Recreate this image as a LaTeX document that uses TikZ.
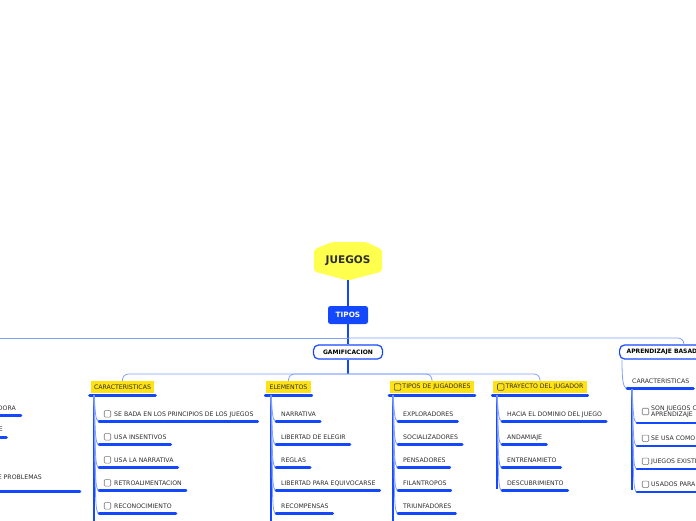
\documentclass[tikz,border=0pt]{standalone}
\usepackage{fontspec}
\setmainfont{DejaVu Sans}
\definecolor{dblue}{RGB}{20,72,255}
\definecolor{lblue}{RGB}{128,158,255}
\definecolor{yelbox}{RGB}{255,226,20}
\definecolor{hexyel}{RGB}{255,255,77}
\definecolor{txt}{RGB}{45,45,45}
\definecolor{chkgray}{RGB}{120,120,120}
\newcommand{\fsix}{\fontsize{6.2}{7}\selectfont}
\tikzset{
  itm/.style={font=\fsix, text=txt, inner sep=0pt, anchor=base west},
  itmend/.style={font=\fsix, text=txt, inner sep=0pt, anchor=base east},
  chk/.style={draw=chkgray, fill=white, line width=0.6pt, rounded corners=1pt, minimum size=6.5pt, inner sep=0pt},
  chkdark/.style={draw=txt!80, fill=yelbox, line width=0.6pt, rounded corners=1pt, minimum size=6.5pt, inner sep=0pt},
  lightc/.style={draw=lblue, line width=0.8pt},
  dline/.style={draw=dblue, line width=1.6pt},
  bar/.style={draw=dblue, line width=2.8pt, line cap=round},
  catbox/.style={fill=yelbox, font=\fsix, text=txt, inner xsep=3.2pt, inner ysep=0pt, minimum height=12pt},
  mainbox/.style={draw=dblue, fill=white, line width=1.2pt, rounded corners=5pt, font=\fontsize{6}{7}\selectfont\bfseries, text=black, inner xsep=7pt, inner ysep=0pt, minimum height=14pt},
}
\newcommand{\mmitems}[5]{%
  \draw[dline] (#2,395) -- (#2,#4);
  \foreach \t [count=\i] in {#5}{
    \pgfmathsetmacro{\by}{421.5+23*(\i-1)}
    \ifnum#3=1
      \node[chk] (#1k\i) at (#2+13.5,\by-7.7) {};
      \node[itm] (#1\i) at (#2+20,\by-5.5) {\t};
    \else
      \node[itm] (#1\i) at (#2+10,\by-5.5) {\t};
    \fi
    \draw[lightc] (#2,395) .. controls (#2+1.5,\by-10) and (#2+1,\by-1) .. (#2+5,\by);
    \draw[bar] (#2+5,\by) -- ([xshift=4pt,yshift=-5.5pt]#1\i.base east);
  }
}
\begin{document}
\begin{tikzpicture}[x=1pt,y=-1pt]
\useasboundingbox (0,0) rectangle (696,520);
% root
\fill[hexyel, rounded corners=2pt] (332,242) -- (366,242) -- (382,249.5) -- (382,271.5) -- (348,280.5) -- (314,271.5) -- (314,249.5) -- cycle;
\node[minimum width=68pt, minimum height=38pt, inner sep=0pt, font=\fontsize{10.5}{12}\selectfont\bfseries, text=txt] (hex) at (348,261) {JUEGOS};
\node[fill=dblue, rounded corners=2.5pt, minimum width=40pt, minimum height=18pt, inner sep=0pt, font=\fontsize{7.3}{8}\selectfont\bfseries, text=white] (tipos) at (348,315) {TIPOS};
\node[mainbox, minimum width=69pt] (gam) at (348,352) {GAMIFICACION};
\node[mainbox, anchor=west] (apr) at (619,352) {APRENDIZAJE BASADO EN JUEGOS};
\draw[dline] (hex.south) -- (tipos.north);
\draw[dline] (tipos.south) -- (gam.north);
\draw[lightc, rounded corners=6pt] (348,338) -| (apr.north);
\draw[lightc] (348,338) -- (-5,338);
% categories
\node[catbox] (car) at (122.5,387) {CARACTERISTICAS};
\node[catbox] (ele) at (288.5,387) {ELEMENTOS};
\node[catbox] (tju) at (432,387) {\hspace*{9pt}TIPOS DE JUGADORES};
\node[catbox] (tra) at (540,387) {\hspace*{9pt}TRAYECTO DEL JUGADOR};
\node[chkdark] (tjuk) at ([xshift=7.5pt]tju.west) {};
\node[chkdark] (trak) at ([xshift=7.5pt]tra.west) {};
\draw[dline] (gam.south) -- (348,374);
\foreach \n in {car,ele,tju,tra}{
  \draw[lightc, rounded corners=6pt] (348,374) -| (\n.north);
  \draw[bar] ([xshift=-1pt,yshift=-2pt]\n.south west) -- ([xshift=1pt,yshift=-2pt]\n.south east);
}
\mmitems{ca}{94}{1}{525}{SE BADA EN LOS PRINCIPIOS DE LOS JUEGOS, USA INSENTIVOS, USA LA NARRATIVA, RETROALIMENTACION, RECONOCIMIENTO}
\mmitems{el}{271}{0}{525}{NARRATIVA, LIBERTAD DE ELEGIR, REGLAS, LIBERTAD PARA EQUIVOCARSE, RECOMPENSAS}
\mmitems{tj}{393}{0}{525}{EXPLORADORES, SOCIALIZADORES, PENSADORES, FILANTROPOS, TRIUNFADORES}
\mmitems{tr}{497}{0}{489}{HACIA EL DOMINIO DEL JUEGO, ANDAMIAJE, ENTRENAMIETO, DESCUBRIMIENTO}
% aprendizaje basado en juegos
\node[itm] (acar) at (632,383.5) {CARACTERISTICAS};
\draw[lightc] ([xshift=3pt]apr.south west) .. controls (622,380) and (623,388) .. (627,388.5);
\draw[bar] (627,388.5) -- ([xshift=4pt,yshift=-5pt]acar.base east);
\draw[dline] (632,389) -- (632,490);
\node[chk] (ak1) at (645.5,411.5) {};
\node[itm] (a1) at (651,410) {SON JUEGOS CON};
\node[itm] (a1b) at (651,416.5) {APRENDIZAJE};
\node[chk] (ak2) at (645.5,438.3) {};
\node[itm] (a2) at (651,440.5) {SE USA COMO};
\node[chk] (ak3) at (645.5,461.3) {};
\node[itm] (a3) at (651,463.5) {JUEGOS EXISTENTES};
\node[chk] (ak4) at (645.5,484.3) {};
\node[itm] (a4) at (651,486.5) {USADOS PARA};
\foreach \by in {423,446,469,492}{
  \draw[lightc] (632,389) .. controls (633.5,\by-10) and (633,\by-1) .. (637,\by);
  \draw[bar] (637,\by) -- (705,\by);
}
% partially visible left branch
\node[itmend] (l1) at (16,410.5) {DORA};
\draw[bar] (-5,415.7) -- (21,415.7);
\node[itmend] (l2) at (3,431.5) {E};
\draw[bar] (-5,437.8) -- (6.5,437.8);
\node[itmend] (l3) at (42,479) {E PROBLEMAS};
\draw[bar] (-5,491.7) -- (80,491.7);
\end{tikzpicture}
\end{document}
